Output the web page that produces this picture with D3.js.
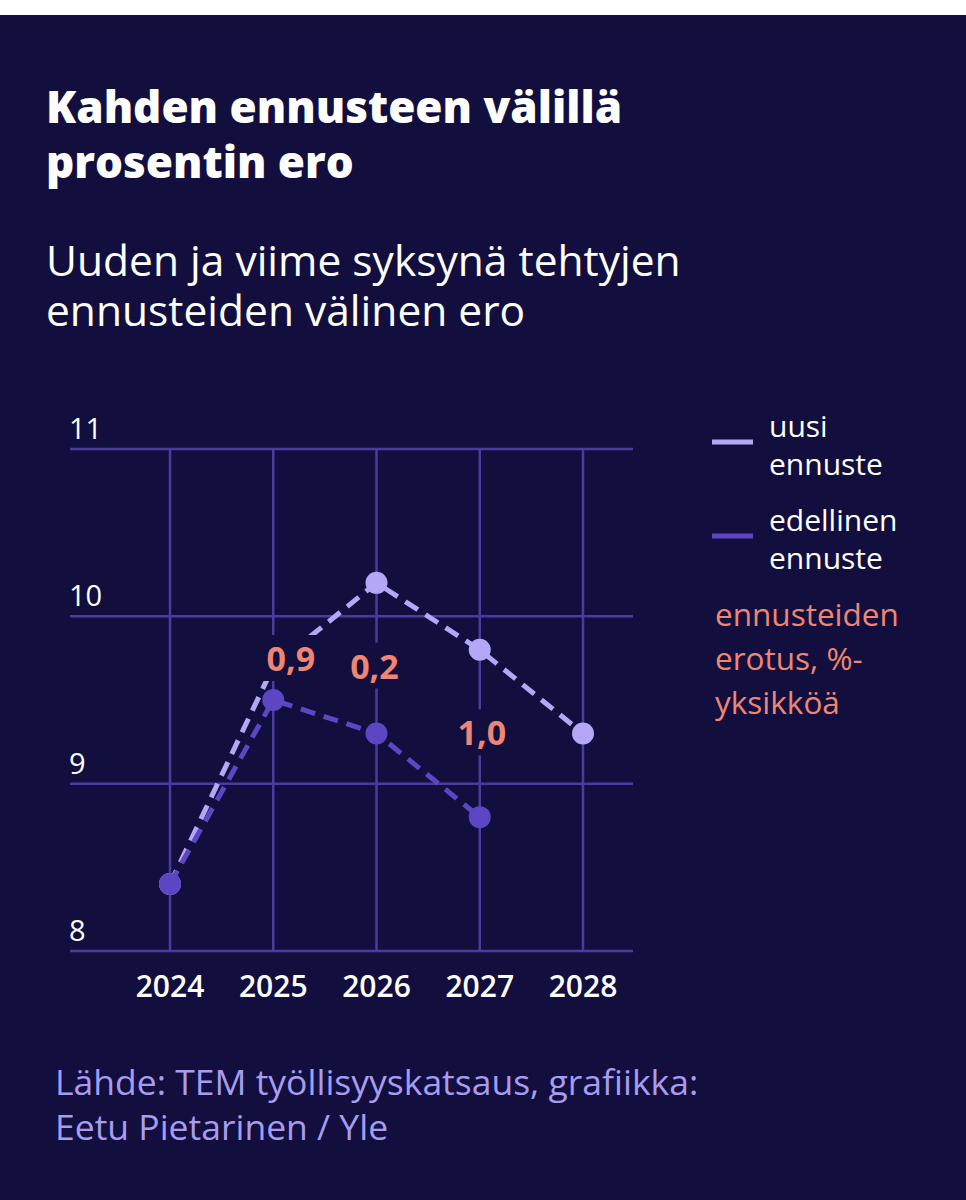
<!DOCTYPE html>
<html><head><meta charset="utf-8">
<script src="https://cdn.jsdelivr.net/npm/d3@7"></script>
<style>
html,body{margin:0;padding:0;background:#fff;}
svg{display:block;}
text{font-family:"Open Sans","Noto Sans",sans-serif;}
</style></head>
<body>
<script>
const years = [2024, 2025, 2026, 2027, 2028];
const newForecast = [8.4, 9.7, 10.2, 9.8, 9.3];
const oldYears = [2024, 2025, 2026, 2027];
const oldForecast = [8.4, 9.5, 9.3, 8.8];
const yTicks = [8, 9, 10, 11];
const diffLabels = ["0,9", "0,2", "1,0"];
const diffLabelYears = [2025.17, 2025.98, 2027.02];
const diffLabelValues = [9.745, 9.70, 9.30];
const titleLines = ["Kahden ennusteen välillä", "prosentin ero"];
const subtitleLines = ["Uuden ja viime syksynä tehtyjen", "ennusteiden välinen ero"];
const legendItems = [["uusi", "ennuste"], ["edellinen", "ennuste"]];
const diffLegend = ["ennusteiden", "erotus, %-", "yksikköä"];
const sourceLines = ["Lähde: TEM työllisyyskatsaus, grafiikka:", "Eetu Pietarinen / Yle"];

const W = 966, H = 1200;
const bg = "#120f3e", grid = "#4b3b9e", light = "#b4a7f5", dark = "#5c46c4", coral = "#ef8572";

const svg = d3.select("body").append("svg").attr("width", W).attr("height", H);
svg.append("rect").attr("width", W).attr("height", H).attr("fill", "#fff");
svg.append("rect").attr("y", 15).attr("width", W).attr("height", H - 15).attr("fill", bg);

// title (one text block with lines)
svg.append("text").attr("fill", "#fff").attr("font-size", 44).attr("font-weight", 800)
  .selectAll("tspan").data(titleLines).join("tspan")
  .attr("x", 46).attr("y", (d, i) => 123 + i * 55).text(d => d);
// subtitle
svg.append("text").attr("fill", "#fff").attr("font-size", 42.5).attr("font-weight", 400)
  .selectAll("tspan").data(subtitleLines).join("tspan")
  .attr("x", 46).attr("y", (d, i) => 276 + i * 50).text(d => d);

const x = d3.scaleLinear().domain([2024, 2028]).range([170, 583]);
const y = d3.scaleLinear().domain([8, 11]).range([951, 449]);

const g = svg.append("g");
// horizontal grid
g.selectAll("line.h").data(yTicks).join("line").attr("class", "h")
  .attr("x1", 70).attr("x2", 633).attr("y1", d => y(d)).attr("y2", d => y(d))
  .attr("stroke", grid).attr("stroke-width", 2.5);
// vertical grid
g.selectAll("line.v").data(years).join("line").attr("class", "v")
  .attr("x1", d => x(d)).attr("x2", d => x(d)).attr("y1", y(11)).attr("y2", y(8))
  .attr("stroke", grid).attr("stroke-width", 2.5);
// y tick labels
g.selectAll("text.yt").data(yTicks).join("text").attr("class", "yt")
  .attr("x", 69).attr("y", d => y(d) - 10)
  .attr("fill", "#fff").attr("font-size", 29).text(d => d);
// x tick labels
g.selectAll("text.xt").data(years).join("text").attr("class", "xt")
  .attr("x", d => x(d)).attr("y", 997).attr("text-anchor", "middle")
  .attr("fill", "#fff").attr("font-size", 30).attr("font-weight", 600).text(d => d);

const line = d3.line().x(d => x(d[0])).y(d => y(d[1]));
const newData = years.map((yr, i) => [yr, newForecast[i]]);
const oldData = oldYears.map((yr, i) => [yr, oldForecast[i]]);

g.append("path").datum(newData).attr("d", line).attr("fill", "none")
  .attr("stroke", light).attr("stroke-width", 5).attr("stroke-dasharray", "15,9");
g.selectAll("circle.n").data(newData).join("circle").attr("class", "n")
  .attr("cx", d => x(d[0])).attr("cy", d => y(d[1])).attr("r", 11).attr("fill", light);
g.append("path").datum(oldData).attr("d", line).attr("fill", "none")
  .attr("stroke", dark).attr("stroke-width", 5).attr("stroke-dasharray", "15,9");
g.selectAll("circle.o").data(oldData).join("circle").attr("class", "o")
  .attr("cx", d => x(d[0])).attr("cy", d => y(d[1])).attr("r", 11).attr("fill", dark);

// diff labels with background
const lab = g.selectAll("g.lab").data(diffLabels).join("g").attr("class", "lab")
  .attr("transform", (d, i) => `translate(${x(diffLabelYears[i])},${y(diffLabelValues[i])})`);
lab.append("rect").attr("x", -30).attr("y", -24).attr("width", 60).attr("height", 46).attr("fill", bg);
lab.append("text").attr("text-anchor", "middle").attr("y", 12)
  .attr("fill", coral).attr("font-size", 34).attr("font-weight", 700).text(d => d);

// legend
const legColors = [light, dark];
const leg = svg.append("g").selectAll("g").data(legendItems).join("g")
  .attr("transform", (d, i) => `translate(0,${i * 94})`);
leg.append("line").attr("x1", 712).attr("x2", 753).attr("y1", 442).attr("y2", 442)
  .attr("stroke", (d, i) => legColors[i]).attr("stroke-width", 5);
leg.selectAll("text").data(d => d).join("text")
  .attr("x", 769).attr("y", (d, i) => 437 + i * 38)
  .attr("fill", "#fff").attr("font-size", 30).text(d => d);
svg.append("g").selectAll("text").data(diffLegend).join("text")
  .attr("x", 715).attr("y", (d, i) => 626 + i * 44)
  .attr("fill", coral).attr("font-size", 31.5).text(d => d);

// source
svg.append("text").attr("fill", "#a89cf0").attr("font-size", 35.5)
  .selectAll("tspan").data(sourceLines).join("tspan")
  .attr("x", 55).attr("y", (d, i) => 1095 + i * 45).text(d => d);
</script>
</body></html>
